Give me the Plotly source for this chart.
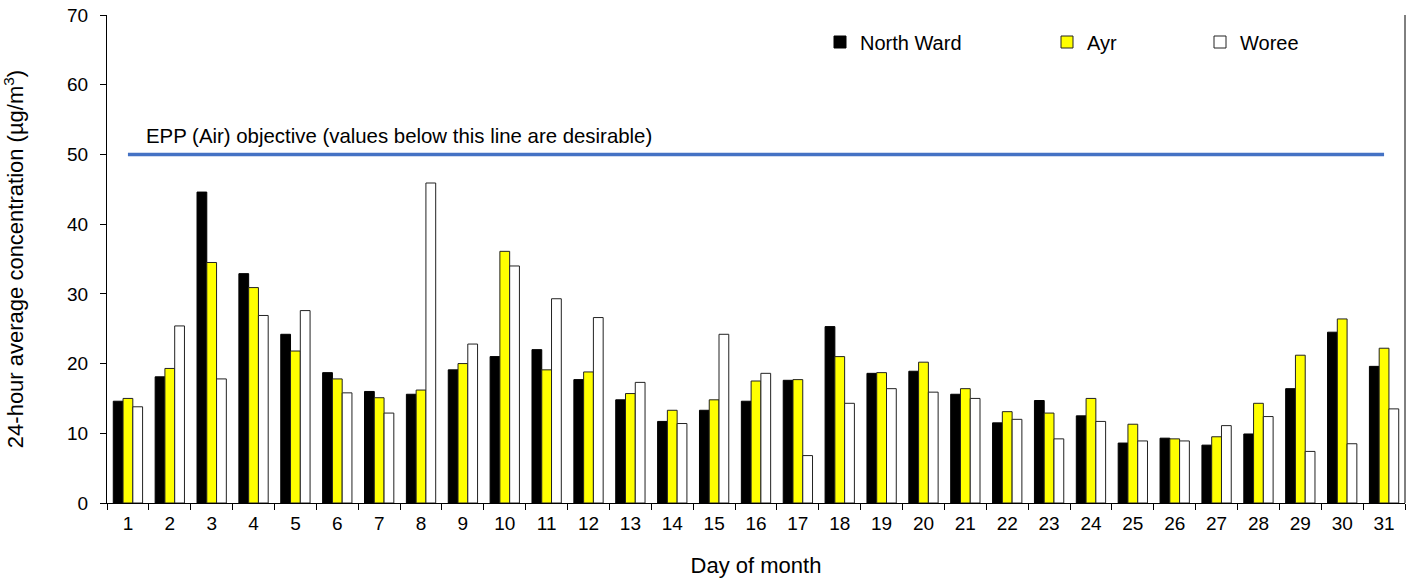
import plotly.graph_objects as go

days = [str(d) for d in range(1, 32)]
north_ward = [14.6, 18.1, 44.6, 32.9, 24.2, 18.7, 16.0, 15.6, 19.1, 21.0,
              22.0, 17.7, 14.8, 11.7, 13.3, 14.6, 17.6, 25.3, 18.6, 18.9,
              15.6, 11.5, 14.7, 12.5, 8.6, 9.3, 8.3, 9.9, 16.4, 24.5, 19.6]
ayr = [15.0, 19.3, 34.5, 30.9, 21.8, 17.8, 15.1, 16.2, 20.0, 36.1,
       19.1, 18.8, 15.7, 13.3, 14.8, 17.5, 17.7, 21.0, 18.7, 20.2,
       16.4, 13.1, 12.9, 15.0, 11.3, 9.2, 9.5, 14.3, 21.2, 26.4, 22.2]
woree = [13.8, 25.4, 17.8, 26.9, 27.6, 15.8, 12.9, 45.9, 22.8, 34.0,
         29.3, 26.6, 17.3, 11.4, 24.2, 18.6, 6.8, 14.3, 16.4, 15.9,
         15.0, 12.0, 9.2, 11.7, 8.9, 8.9, 11.1, 12.4, 7.4, 8.5, 13.5]
objective = [50] * 31
objective_label = "EPP (Air) objective (values below this line are desirable)"

FONT = "Liberation Sans, Arial, sans-serif"
W, H = 1413, 580
L, R, T, B = 107, 8, 15, 77
PW = W - L - R
PH = H - T - B

def px2paper(px):
    return (px - L) / PW

def py2paper(py):
    return 1 - (py - T) / PH

fig = go.Figure()
fig.add_trace(go.Bar(x=days, y=north_ward, name="North Ward",
                     marker=dict(color="#000000", line=dict(color="#000000", width=1)),
                     legend="legend"))
fig.add_trace(go.Bar(x=days, y=ayr, name="Ayr",
                     marker=dict(color="#FFFF00", line=dict(color="#222222", width=1)),
                     legend="legend2"))
fig.add_trace(go.Bar(x=days, y=woree, name="Woree",
                     marker=dict(color="#FFFFFF", line=dict(color="#222222", width=1)),
                     legend="legend3"))
fig.add_trace(go.Scatter(x=days, y=objective, mode="lines", showlegend=False,
                         line=dict(color="#4472C4", width=3.5), hoverinfo="skip"))

fig.add_annotation(x=px2paper(144), xref="paper", y=52.6, yref="y",
                   text=objective_label, showarrow=False, xanchor="left", yanchor="middle",
                   font=dict(size=20.4, color="#000000", family=FONT))

# right frame line
fig.add_shape(type="line", xref="paper", yref="paper", x0=1, x1=1, y0=0, y1=1,
              line=dict(color="#000000", width=1))

leg_common = dict(orientation="h", yanchor="middle", xanchor="left",
                  bgcolor="rgba(0,0,0,0)", font=dict(size=20, color="#000000", family=FONT),
                  itemwidth=30)
ly = py2paper(42)
fig.update_layout(
    width=W, height=H,
    margin=dict(l=L, r=R, t=T, b=B),
    paper_bgcolor="white", plot_bgcolor="white",
    barmode="group", bargap=0.3, bargroupgap=0,
    font=dict(family=FONT, color="#000000"),
    legend=dict(x=px2paper(820), y=ly, **leg_common),
    legend2=dict(x=px2paper(1047), y=ly, **leg_common),
    legend3=dict(x=px2paper(1200), y=ly, **leg_common),
    xaxis=dict(
        type="category", showline=True, linecolor="#000000", linewidth=1,
        ticks="outside", ticklen=6, tickcolor="#000000", tickson="boundaries",
        tickfont=dict(size=19, family=FONT), showgrid=False, ticklabelstandoff=3,
        title=dict(text="Day of month", font=dict(size=22, family=FONT), standoff=24),
    ),
    yaxis=dict(
        range=[0, 70], dtick=10, showline=True, linecolor="#000000", linewidth=1,
        ticks="outside", ticklen=6, tickcolor="#000000", showgrid=False, zeroline=False,
        tickfont=dict(size=19, family=FONT), ticklabeloverflow="allow", ticklabelstandoff=8,
        automargin="left+right",
        title=dict(text="24-hour average concentration (µg/m<sup>3</sup>)",
                   font=dict(size=22, family=FONT), standoff=41),
    ),
)

fig.write_html("out.html", config={"displayModeBar": False},
               post_script="document.body.style.margin='0';")
